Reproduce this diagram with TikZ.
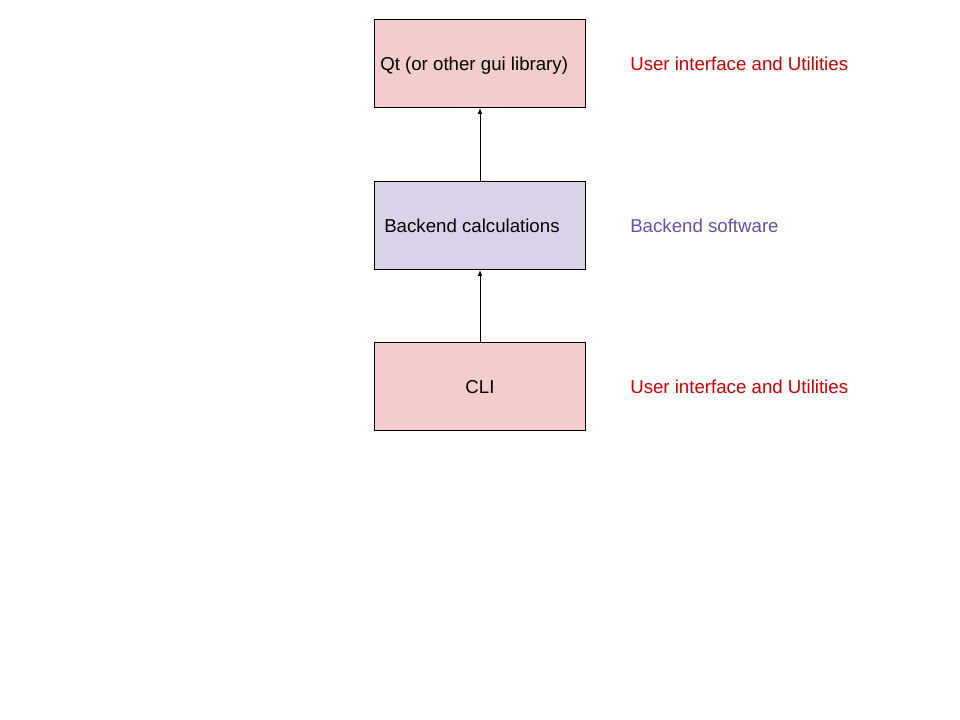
\documentclass[tikz,border=0pt]{standalone}
\usepackage{fontspec}
\setmainfont{Liberation Sans}
\usetikzlibrary{arrows.meta}
\definecolor{pinkfill}{HTML}{F4CCCC}
\definecolor{lavfill}{HTML}{D9D2E9}
\definecolor{redtext}{HTML}{CC0000}
\definecolor{purpletext}{HTML}{674EA7}
\tikzset{
  box/.style={draw=black, line width=0.75pt, minimum width=158.25pt, minimum height=66pt, inner sep=0pt, anchor=north west, font=\fontsize{14}{16}\selectfont},
  lbl/.style={anchor=west, inner sep=0pt, font=\fontsize{14}{16}\selectfont},
  conn/.style={line width=0.75pt, -{Latex[length=4.5pt,width=3.6pt]}}
}
\begin{document}
\begin{tikzpicture}[x=0.75pt,y=-0.75pt]
\useasboundingbox (0,0) rectangle (960,720);
\node[box, fill=pinkfill] (qt) at (374,19) {};
\node[lbl, anchor=west] (qtt) at (380,66) {Qt (or other gui library)};
\node[box, fill=lavfill] (be) at (374,181) {};
\node[lbl, anchor=west] (bet) at (384,226) {Backend calculations};
\node[box, fill=pinkfill] (cli) at (374,342) {};
\node[lbl, anchor=center] (clit) at (480,387) {CLI};
\node[lbl, text=redtext] (l1) at (630,64) {User interface and Utilities};
\node[lbl, text=purpletext] (l2) at (630,226) {Backend software};
\node[lbl, text=redtext] (l3) at (630,387) {User interface and Utilities};
\draw[conn] (be.north) -- (qt.south);
\draw[conn] (cli.north) -- (be.south);
\end{tikzpicture}
\end{document}
